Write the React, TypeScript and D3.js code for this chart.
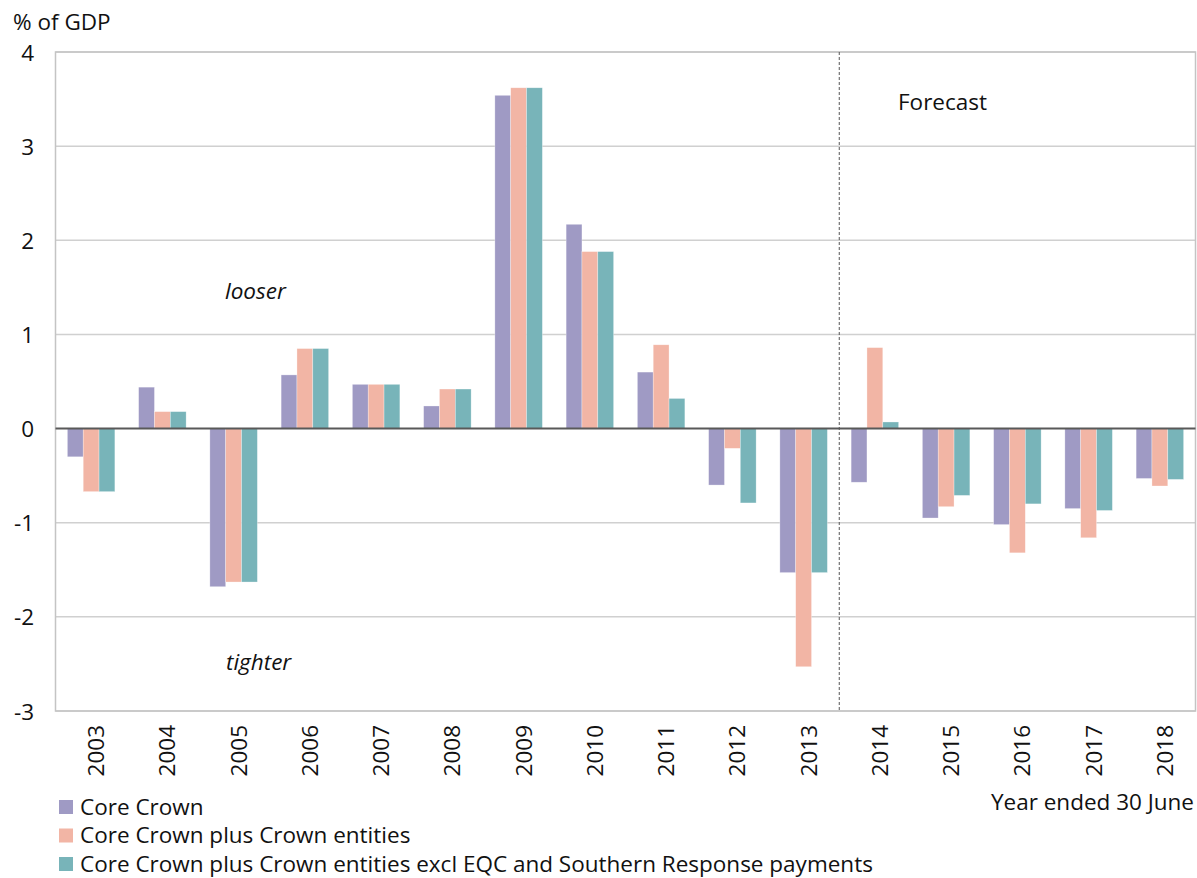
import React from "react";
import * as d3 from "d3";

const years = ["2003","2004","2005","2006","2007","2008","2009","2010","2011","2012","2013","2014","2015","2016","2017","2018"];
const coreCrown = [-0.30, 0.44, -1.68, 0.57, 0.47, 0.24, 3.54, 2.17, 0.60, -0.60, -1.53, -0.57, -0.95, -1.02, -0.85, -0.53];
const coreCrownPlusEntities = [-0.67, 0.18, -1.63, 0.85, 0.47, 0.42, 3.62, 1.88, 0.89, -0.21, -2.53, 0.86, -0.83, -1.32, -1.16, -0.61];
const coreCrownExclEqc = [-0.67, 0.18, -1.63, 0.85, 0.47, 0.42, 3.62, 1.88, 0.32, -0.79, -1.53, 0.07, -0.71, -0.80, -0.87, -0.54];
const seriesNames = [
  "Core Crown",
  "Core Crown plus Crown entities",
  "Core Crown plus Crown entities excl EQC and Southern Response payments",
];
const yTicks = [4, 3, 2, 1, 0, -1, -2, -3];
const forecastStart = "2014";

const colors = ["#9f9ac4", "#f2b5a5", "#78b4b9"];
const FONT = "'Open Sans', sans-serif";
const FS = 22.5;

const W = 1197;
const H = 878;
const left = 55.5;
const right = 1195.5;
const top = 52;
const bottom = 711;

export default function App() {
  const series = [coreCrown, coreCrownPlusEntities, coreCrownExclEqc];
  const x = d3.scaleBand<string>().domain(years).range([left, right]).paddingInner(1 / 3).paddingOuter(1 / 6);
  const band = d3.scaleBand<number>().domain([0, 1, 2]).range([0, x.bandwidth()]);
  const y = d3.scaleLinear().domain([-3, 4]).range([bottom, top]);
  const step = x.step();
  const forecastX = (x(forecastStart) as number) - (step - x.bandwidth()) / 2;

  return (
    <div style={{ position: "absolute", left: 0, top: 0 }}>
      <svg width={W} height={H} style={{ display: "block", fontFamily: FONT }}>
        <rect x={0} y={0} width={W} height={H} fill="#ffffff" />
        {/* gridlines */}
        {yTicks.filter((t) => t !== 0).map((t) => (
          <line key={t} x1={left} x2={right} y1={y(t)} y2={y(t)} stroke="#d0d0d0" strokeWidth={1.5} />
        ))}
        {/* plot frame */}
        <rect x={left} y={top} width={right - left} height={bottom - top} fill="none" stroke="#c4c4c4" strokeWidth={1.5} />
        {/* bars */}
        {years.map((yr, i) => (
          <g key={yr} transform={`translate(${x(yr)},0)`}>
            {series.map((s, k) => {
              const v = s[i];
              const y0 = y(0);
              const yv = y(v);
              return (
                <rect
                  key={k}
                  x={band(k)}
                  y={Math.min(y0, yv)}
                  width={band.bandwidth()}
                  height={Math.abs(yv - y0)}
                  fill={colors[k]}
                  stroke="#ffffff"
                  strokeOpacity={0.5}
                  strokeWidth={0.6}
                />
              );
            })}
          </g>
        ))}
        {/* zero line */}
        <line x1={left} x2={right} y1={y(0)} y2={y(0)} stroke="#595959" strokeWidth={2} />
        {/* forecast divider */}
        <line x1={forecastX} x2={forecastX} y1={top} y2={bottom} stroke="#555555" strokeWidth={1} strokeDasharray="3,2" />
        <text x={898} y={110} fontSize={FS} fill="#111">Forecast</text>
        <text x={225} y={299} fontSize={FS} fontStyle="italic" fill="#111">looser</text>
        <text x={226} y={670} fontSize={FS} fontStyle="italic" fill="#111">tighter</text>
        {/* y axis labels */}
        {yTicks.map((t) => (
          <text key={t} x={34} y={y(t)} dy="0.38em" fontSize={FS} textAnchor="end" fill="#111">{t}</text>
        ))}
        <text x={13} y={30} fontSize={FS} fill="#111">% of GDP</text>
        {/* x axis labels */}
        {years.map((yr) => {
          const cx = (x(yr) as number) + x.bandwidth() / 2 + 5;
          return (
            <text key={yr} transform={`translate(${cx},725) rotate(-90)`} dy="0.35em" fontSize={FS} textAnchor="end" fill="#111">{yr}</text>
          );
        })}
        <text x={1194} y={810} fontSize={FS} textAnchor="end" fill="#111">Year ended 30 June</text>
        {/* legend */}
        {seriesNames.map((name, k) => (
          <g key={name} transform={`translate(59,${800 + k * 28.5})`}>
            <rect x={0} y={0} width={14} height={14} fill={colors[k]} />
            <text x={21} y={7} dy="0.35em" fontSize={FS} fill="#111">{name}</text>
          </g>
        ))}
      </svg>
    </div>
  );
}
